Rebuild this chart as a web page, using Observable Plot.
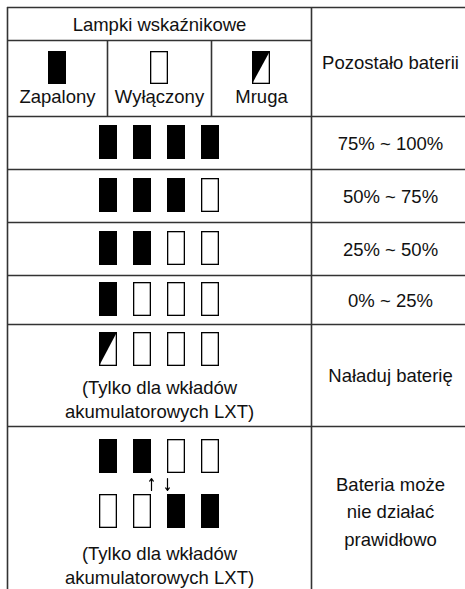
<!DOCTYPE html>
<html>
<head>
<meta charset="utf-8">
<script src="https://cdn.jsdelivr.net/npm/d3@7"></script>
<script src="https://cdn.jsdelivr.net/npm/@observablehq/plot@0.6"></script>
<style>
  html, body { margin: 0; padding: 0; background: #fff; overflow: hidden; }
</style>
</head>
<body>
<div id="chart"></div>
<script>
// ---- data ----
const headerTitle = "Lampki wskaźnikowe";
const legendStates = ["on", "off", "blink"];
const legendLabels = ["Zapalony", "Wyłączony", "Mruga"];
const remainingTitle = "Pozostało baterii";
const levelLabels = ["75% ~ 100%", "50% ~ 75%", "25% ~ 50%", "0% ~ 25%", "Naładuj baterię"];
const levelStates = [
  ["on", "on", "on", "on"],
  ["on", "on", "on", "off"],
  ["on", "on", "off", "off"],
  ["on", "off", "off", "off"],
  ["blink", "off", "off", "off"]
];
const faultStates = [
  ["on", "on", "off", "off"],
  ["off", "off", "on", "on"]
];
const faultLabel = ["Bateria może", "nie działać", "prawidłowo"];
const lxtNote = ["(Tylko dla wkładów", "akumulatorowych LXT)"];

// ---- layout ----
const W = 465, H = 589;
const L = {
  x0: 7, xSplit: 311, xEnd: 465, yTop: 7, yHead: 40,
  subCols: [107, 211],
  rowEdges: [116, 169, 222, 275, 324, 426],
  lampX0: 99, lampStep: 34, lampW: 18, lampH: 34,
  rowLampTop: [125, 178, 231, 282, 332],
  faultLampTop: [439, 494],
  legendLampX: [48, 150, 252], legendLampTop: 51, legendLampH: 33,
  leftX: 159, rightX: 390
};

// lamps
const lamps = [];
levelStates.forEach((row, r) => row.forEach((s, i) => {
  const x1 = L.lampX0 + i * L.lampStep, y1 = L.rowLampTop[r];
  lamps.push({state: s, x1, x2: x1 + L.lampW, y1, y2: y1 + L.lampH});
}));
faultStates.forEach((row, r) => row.forEach((s, i) => {
  const x1 = L.lampX0 + i * L.lampStep, y1 = L.faultLampTop[r];
  lamps.push({state: s, x1, x2: x1 + L.lampW, y1, y2: y1 + L.lampH});
}));
legendStates.forEach((s, i) => {
  const x1 = L.legendLampX[i], y1 = L.legendLampTop;
  lamps.push({state: s, x1, x2: x1 + L.lampW, y1, y2: y1 + L.legendLampH});
});

// blinking lamp: black upper-left triangle (diagonal bottom-left -> top-right)
const tri = [];
lamps.filter(d => d.state === "blink").forEach((d, k) => {
  tri.push({id: k, x: d.x1, y1: d.y1, y2: d.y2});
  tri.push({id: k, x: d.x2, y1: d.y1, y2: d.y1});
});

// grid lines
const hLines = [
  {y: L.yTop, x1: L.x0, x2: L.xEnd},
  {y: L.yHead, x1: L.x0, x2: L.xSplit},
  ...L.rowEdges.map(y => ({y, x1: L.x0, x2: L.xEnd}))
];
const vLines = [
  {x: L.x0, y1: L.yTop, y2: H},
  {x: L.xSplit, y1: L.yTop, y2: H},
  ...L.subCols.map(x => ({x, y1: L.yHead, y2: L.rowEdges[0]}))
];

// texts (y = baseline)
const subCenters = [ (L.x0 + L.subCols[0]) / 2, (L.subCols[0] + L.subCols[1]) / 2, (L.subCols[1] + L.xSplit) / 2 ];
const texts = [
  {x: L.leftX, y: 30, text: headerTitle},
  ...legendLabels.map((t, i) => ({x: subCenters[i], y: 102, text: t})),
  {x: L.rightX, y: 68, text: remainingTitle},
  ...levelLabels.map((t, i) => ({x: L.rightX, y: (L.rowEdges[i] + L.rowEdges[i + 1]) / 2 + 6.5, text: t})),
  ...lxtNote.map((t, i) => ({x: L.leftX, y: 393 + i * 24, text: t})),
  ...lxtNote.map((t, i) => ({x: L.leftX, y: 559 + i * 24, text: t})),
  ...faultLabel.map((t, i) => ({x: L.rightX, y: 490 + i * 27.5, text: t}))
];

// arrows between the two fault rows
const topRow = lamps.slice(levelStates.length * 4, levelStates.length * 4 + 4);
const arrows = [
  {x1: topRow[1].x2, y1: 490, x2: topRow[1].x2, y2: 478},
  {x1: topRow[2].x1, y1: 478, x2: topRow[2].x1, y2: 490}
];

const chart = Plot.plot({
  width: W, height: H,
  margin: 0,
  x: {domain: [0, W], range: [0, W], axis: null},
  y: {domain: [0, H], range: [0, H], axis: null},
  style: {background: "#fff", fontFamily: "'Liberation Sans', Arial, sans-serif", fontSize: "18px", color: "#000"},
  marks: [
    Plot.ruleY(hLines, {y: "y", x1: "x1", x2: "x2", stroke: "#333", strokeWidth: 1.6}),
    Plot.ruleX(vLines, {x: "x", y1: "y1", y2: "y2", stroke: "#333", strokeWidth: 1.6}),
    Plot.rect(lamps.filter(d => d.state === "on"), {x1: "x1", x2: "x2", y1: "y1", y2: "y2", fill: "#000"}),
    Plot.rect(lamps.filter(d => d.state !== "on"), {x1: "x1", x2: "x2", y1: "y1", y2: "y2", fill: "#fff", stroke: "#000", strokeWidth: 1.3, inset: 0.65}),
    Plot.area(tri, {x1: "x", y1: "y1", y2: "y2", z: "id", fill: "#000", curve: "linear"}),
    Plot.arrow(arrows, {x1: "x1", y1: "y1", x2: "x2", y2: "y2", stroke: "#000", strokeWidth: 1.2, headLength: 4, headAngle: 70}),
    Plot.text(texts, {x: "x", y: "y", text: "text", textAnchor: "middle", lineAnchor: "bottom", fontSize: 18.5, fill: "#111"})
  ]
});
document.getElementById("chart").appendChild(chart);
</script>
</body>
</html>
